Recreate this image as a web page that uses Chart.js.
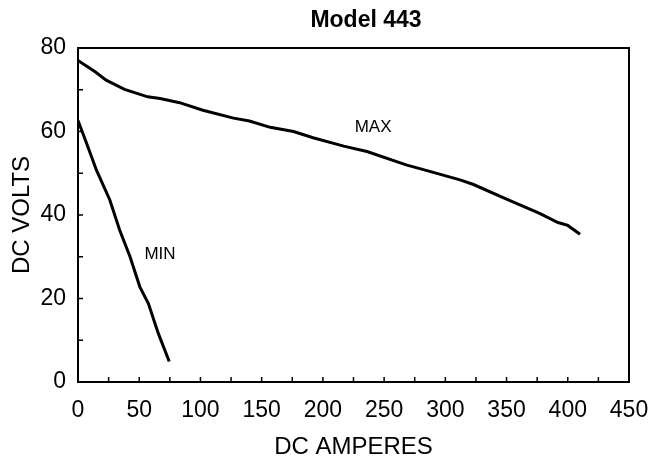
<!DOCTYPE html>
<html>
<head>
<meta charset="utf-8">
<script src="https://cdn.jsdelivr.net/npm/chart.js@4"></script>
<style>
  html, body { margin: 0; padding: 0; background: #fff; }
  #wrap { width: 658px; height: 462px; }
</style>
</head>
<body>
<div id="wrap"><canvas id="chart443"></canvas></div>
<script>
// values (DC amps vs DC volts)
var maxAmps  = [0, 14, 23, 38, 57, 67, 83, 102, 127, 140, 157, 176, 192, 217, 236, 268, 288, 312, 323, 350, 377, 392, 400, 410];
var maxVolts = [77, 74.3, 72.3, 70.1, 68.3, 67.9, 66.9, 65.1, 63.2, 62.5, 61.0, 60.0, 58.5, 56.5, 55.2, 52.0, 50.4, 48.4, 47.3, 43.8, 40.4, 38.2, 37.5, 35.4];
var minAmps  = [0, 7, 15, 26, 34, 42.5, 50.5, 57.5, 65.5, 74.5];
var minVolts = [62.6, 57.2, 50.8, 43.6, 36.4, 30.0, 22.8, 18.8, 11.7, 4.9];

var titleText = "Model 443";
var xTitle = "DC AMPERES";
var yTitle = "DC VOLTS";
var curveLabels = [
  { text: "MAX", x: 241, y: 61 },
  { text: "MIN", x: 67, y: 30.7 }
];

function toPoints(xs, ys) {
  var pts = [];
  for (var i = 0; i < xs.length; i++) pts.push({ x: xs[i], y: ys[i] });
  return pts;
}

var FONT = "'Liberation Sans', Arial, sans-serif";

// frame, inward minor ticks, curve labels and title
var extrasPlugin = {
  id: "extras",
  afterDraw: function(chart) {
    var ctx = chart.ctx;
    var a = chart.chartArea;
    var xs = chart.scales.x, ys = chart.scales.y;
    ctx.save();
    ctx.strokeStyle = "#000";
    ctx.lineWidth = 2;
    ctx.strokeRect(a.left, a.top, a.right - a.left, a.bottom - a.top);

    ctx.lineWidth = 1.5;
    ctx.beginPath();
    for (var v = 25; v < 450; v += 25) {
      var px = xs.getPixelForValue(v);
      ctx.moveTo(px, a.bottom);
      ctx.lineTo(px, a.bottom - 5);
    }
    for (var w = 10; w < 80; w += 10) {
      var py = ys.getPixelForValue(w);
      ctx.moveTo(a.left, py);
      ctx.lineTo(a.left + 5, py);
    }
    ctx.stroke();

    ctx.fillStyle = "#000";
    ctx.font = "17px " + FONT;
    ctx.textAlign = "center";
    ctx.textBaseline = "middle";
    curveLabels.forEach(function(l) {
      ctx.fillText(l.text, xs.getPixelForValue(l.x), ys.getPixelForValue(l.y));
    });

    ctx.font = "bold 23px " + FONT;
    ctx.fillText(titleText, 366, 21);
    ctx.restore();
  }
};

new Chart(document.getElementById("chart443"), {
  type: "line",
  data: {
    datasets: [
      { label: "MAX", data: toPoints(maxAmps, maxVolts), borderColor: "#000", borderWidth: 3, pointRadius: 0, tension: 0, fill: false },
      { label: "MIN", data: toPoints(minAmps, minVolts), borderColor: "#000", borderWidth: 3, pointRadius: 0, tension: 0, fill: false }
    ]
  },
  options: {
    responsive: true,
    maintainAspectRatio: false,
    animation: false,
    layout: { padding: { top: 48, right: 29, left: 0, bottom: 0 } },
    plugins: {
      legend: { display: false },
      tooltip: { enabled: false },
      title: { display: false }
    },
    scales: {
      x: {
        type: "linear",
        min: 0, max: 450,
        afterFit: function(s) { s.height = 80; s.paddingLeft = 0; s.paddingRight = 0; },
        grid: { display: false, drawTicks: false },
        border: { display: true, color: "#000", width: 2 },
        ticks: { stepSize: 50, padding: 15, color: "#000", font: { family: FONT, size: 23 } },
        title: { display: true, text: xTitle, color: "#000", padding: { top: 0, bottom: 0 }, font: { family: FONT, size: 24 } }
      },
      y: {
        min: 0, max: 80,
        afterFit: function(s) { s.width = 78; s.paddingTop = 0; s.paddingBottom = 0; },
        grid: { display: false, drawTicks: false },
        border: { display: true, color: "#000", width: 2 },
        ticks: { stepSize: 20, padding: 12, color: "#000", font: { family: FONT, size: 23 } },
        title: { display: true, text: yTitle, color: "#000", padding: { top: 8, bottom: 0 }, font: { family: FONT, size: 24 } }
      }
    }
  },
  plugins: [extrasPlugin]
});
</script>
</body>
</html>
